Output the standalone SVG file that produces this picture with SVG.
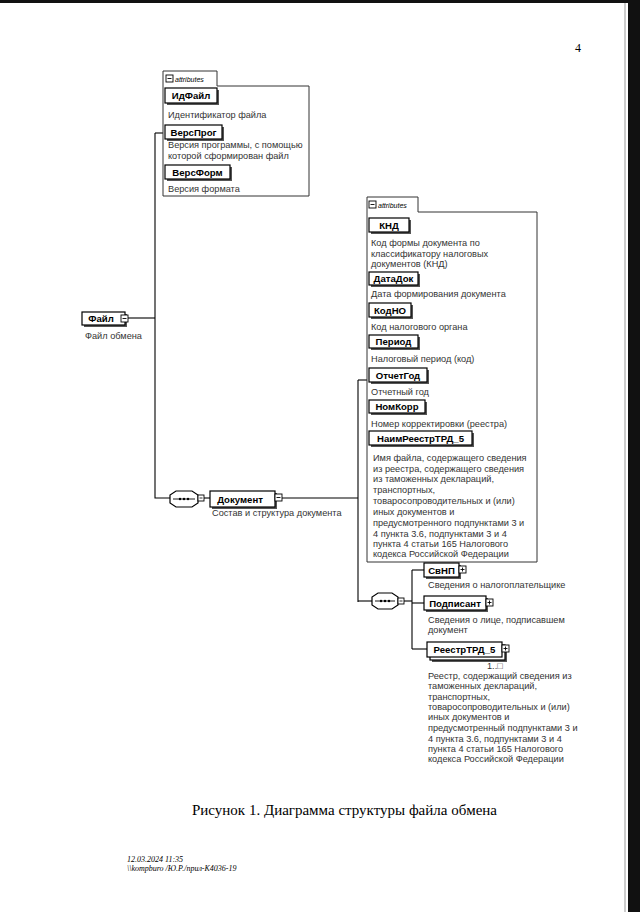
<svg xmlns="http://www.w3.org/2000/svg" width="640" height="912" viewBox="0 0 640 912">
<defs>
<style>
.el{fill:#fff;stroke:#000;stroke-width:1.2}
.sh{fill:#555}
.nm{font-family:"Liberation Sans",Arial,sans-serif;font-size:9.6px;font-weight:bold;text-anchor:middle;fill:#000}
.ds{font-family:"Liberation Sans",Arial,sans-serif;font-size:9.2px;fill:#333}
.grp{fill:#fff;stroke:#333;stroke-width:1}
.tab{font-family:"Liberation Sans",Arial,sans-serif;font-size:7px;font-style:italic;fill:#000}
.btn{fill:#fff;stroke:#000;stroke-width:0.9}
.ln{fill:none;stroke:#000;stroke-width:1.1}
.cap{font-family:"Liberation Serif","Times New Roman",serif;fill:#000}
</style>
</defs>
<rect x="0" y="0" width="640" height="912" fill="#fff"/>
<rect x="0" y="0" width="640" height="3" fill="#111"/>
<rect x="628" y="0" width="12" height="912" fill="#111"/>
<line x1="625" y1="3" x2="625" y2="912" stroke="#999" stroke-width="1"/>

<g id="connectors" class="ln">
<path d="M155,133 H163"/>
<path d="M155,133 V498 H170"/>
<path d="M128,318 H155"/>
<path d="M204,498 H210"/>
<path d="M282,498 H358"/>
<path d="M358,380 V602"/>
<path d="M358,380 H367"/>
<path d="M358,601 H372"/>
<path d="M404,601 H412"/>
<path d="M412,570 V649"/>
<path d="M412,570 H424"/>
<path d="M412,603 H424"/>
<path d="M412,649 H427"/>
</g>

<g id="attrs-file">
<path class="grp" d="M163,71 H217 V86 H309 V196 H163 Z"/>
<rect class="btn" x="166" y="75" width="7" height="7"/>
<line x1="167.5" y1="78.5" x2="171.5" y2="78.5" stroke="#000" stroke-width="0.9"/>
<text class="tab" x="175" y="81.5">attributes</text>
</g>

<g id="ИдФайл">
<rect class="sh" x="167" y="90" width="52" height="15"/>
<rect class="el" x="165" y="88" width="52" height="15"/>
<text class="nm" x="191" y="99">ИдФайл</text>
<text class="ds" x="168" y="118">Идентификатор файла</text>
</g>
<g id="ВерсПрог">
<rect class="sh" x="167" y="127" width="57" height="14"/>
<rect class="el" x="165" y="125" width="57" height="14"/>
<text class="nm" x="193.5" y="135.5">ВерсПрог</text>
<text class="ds" x="168" y="148">Версия программы, с помощью</text>
<text class="ds" x="168" y="159">которой сформирован файл</text>
</g>
<g id="ВерсФорм">
<rect class="sh" x="167" y="167" width="65" height="14"/>
<rect class="el" x="165" y="165" width="65" height="14"/>
<text class="nm" x="197.5" y="175.5">ВерсФорм</text>
<text class="ds" x="168" y="192">Версия формата</text>
</g>

<g id="Файл">
<rect class="sh" x="84" y="314" width="43" height="13"/>
<rect class="el" x="82" y="312" width="43" height="13"/>
<text class="nm" x="101" y="322">Файл</text>
<rect class="btn" x="121" y="315" width="7" height="7"/>
<line x1="122.5" y1="318.5" x2="126.5" y2="318.5" stroke="#000" stroke-width="0.9"/>
<text class="ds" x="85" y="339">Файл обмена</text>
</g>

<g id="seq1">
<path class="el" d="M176,491 H192 L198,495 V503 L192,507 H176 L170,503 V495 Z"/>
<line x1="173" y1="499" x2="195" y2="499" stroke="#000" stroke-width="0.9"/>
<circle cx="180" cy="499" r="1.2"/><circle cx="184" cy="499" r="1.2"/><circle cx="188" cy="499" r="1.2"/>
<rect class="btn" x="198" y="495" width="6" height="6"/>
<line x1="199.5" y1="498" x2="202.5" y2="498" stroke="#000" stroke-width="0.8"/>
</g>

<g id="Документ">
<rect class="sh" x="212" y="493" width="65" height="16"/>
<rect class="el" x="210" y="491" width="65" height="16"/>
<text class="nm" x="240" y="502.5">Документ</text>
<rect class="btn" x="275" y="494" width="7" height="7"/>
<line x1="276.5" y1="497.5" x2="280.5" y2="497.5" stroke="#000" stroke-width="0.9"/>
<text class="ds" x="212" y="516">Состав и структура документа</text>
</g>

<g id="attrs-doc">
<path class="grp" d="M367,197 H418 V212 H537 V562 H367 Z"/>
<rect class="btn" x="369" y="201" width="7" height="7"/>
<line x1="370.5" y1="204.5" x2="374.5" y2="204.5" stroke="#000" stroke-width="0.9"/>
<text class="tab" x="378" y="208">attributes</text>
</g>

<g id="КНД">
<rect class="sh" x="371" y="220" width="40" height="14"/>
<rect class="el" x="369" y="218" width="40" height="14"/>
<text class="nm" x="389" y="228.5">КНД</text>
<text class="ds" x="371" y="246">Код формы документа по</text>
<text class="ds" x="371" y="257">классификатору налоговых</text>
<text class="ds" x="371" y="267">документов (КНД)</text>
</g>
<g id="ДатаДок">
<rect class="sh" x="371" y="274" width="49" height="13"/>
<rect class="el" x="369" y="272" width="49" height="13"/>
<text class="nm" x="393.5" y="282">ДатаДок</text>
<text class="ds" x="371" y="297">Дата формирования документа</text>
</g>
<g id="КодНО">
<rect class="sh" x="371" y="305" width="42" height="14"/>
<rect class="el" x="369" y="303" width="42" height="14"/>
<text class="nm" x="390" y="313.5">КодНО</text>
<text class="ds" x="371" y="330">Код налогового органа</text>
</g>
<g id="Период">
<rect class="sh" x="371" y="337" width="49" height="13"/>
<rect class="el" x="369" y="335" width="49" height="13"/>
<text class="nm" x="393.5" y="345">Период</text>
<text class="ds" x="371" y="362">Налоговый период (код)</text>
</g>
<g id="ОтчетГод">
<rect class="sh" x="371" y="370" width="58" height="14"/>
<rect class="el" x="369" y="368" width="58" height="14"/>
<text class="nm" x="398" y="378.5">ОтчетГод</text>
<text class="ds" x="371" y="395">Отчетный год</text>
</g>
<g id="НомКорр">
<rect class="sh" x="371" y="402" width="56" height="13"/>
<rect class="el" x="369" y="400" width="56" height="13"/>
<text class="nm" x="397" y="410">НомКорр</text>
<text class="ds" x="371" y="427">Номер корректировки (реестра)</text>
</g>
<g id="НаимРеестрТРД_5">
<rect class="sh" x="371" y="433" width="103" height="14"/>
<rect class="el" x="369" y="431" width="103" height="14"/>
<text class="nm" x="420.5" y="441.5">НаимРеестрТРД_5</text>
<text class="ds" x="373" y="461">Имя файла, содержащего сведения</text>
<text class="ds" x="373" y="472">из реестра, содержащего сведения</text>
<text class="ds" x="373" y="482">из таможенных деклараций,</text>
<text class="ds" x="373" y="493">транспортных,</text>
<text class="ds" x="373" y="504">товаросопроводительных и (или)</text>
<text class="ds" x="373" y="515">иных документов и</text>
<text class="ds" x="373" y="526">предусмотренного подпунктами 3 и</text>
<text class="ds" x="373" y="537">4 пункта 3.6, подпунктами 3 и 4</text>
<text class="ds" x="373" y="547">пункта 4 статьи 165 Налогового</text>
<text class="ds" x="373" y="557">кодекса Российской Федерации</text>
</g>

<g id="seq2">
<path class="el" d="M378,593 H392 L398,597 V605 L392,609 H378 L372,605 V597 Z"/>
<line x1="375" y1="601" x2="395" y2="601" stroke="#000" stroke-width="0.9"/>
<circle cx="381" cy="601" r="1.2"/><circle cx="385" cy="601" r="1.2"/><circle cx="389" cy="601" r="1.2"/>
<rect class="btn" x="398" y="598" width="6" height="6"/>
<line x1="399.5" y1="601" x2="402.5" y2="601" stroke="#000" stroke-width="0.8"/>
</g>

<g id="СвНП">
<rect class="sh" x="426" y="565" width="35" height="14"/>
<rect class="el" x="424" y="563" width="35" height="14"/>
<text class="nm" x="441.5" y="573.5">СвНП</text>
<rect class="btn" x="459" y="566" width="7" height="7"/>
<path d="M460.5,569.5 H464.5 M462.5,567.5 V571.5" stroke="#000" stroke-width="0.9"/>
<text class="ds" x="428" y="588">Сведения о налогоплательщике</text>
</g>
<g id="Подписант">
<rect class="sh" x="426" y="598" width="62" height="14"/>
<rect class="el" x="424" y="596" width="62" height="14"/>
<text class="nm" x="455" y="606.5">Подписант</text>
<rect class="btn" x="486" y="599" width="7" height="7"/>
<path d="M487.5,602.5 H491.5 M489.5,600.5 V604.5" stroke="#000" stroke-width="0.9"/>
<text class="ds" x="428" y="623">Сведения о лице, подписавшем</text>
<text class="ds" x="428" y="633">документ</text>
</g>
<g id="РеестрТРД_5">
<rect class="sh" x="432" y="647" width="75" height="15"/>
<rect class="el" x="430" y="645" width="75" height="15"/>
<rect class="el" x="427" y="642" width="75" height="15"/>
<text class="nm" x="464.5" y="653">РеестрТРД_5</text>
<rect class="btn" x="502" y="645" width="7" height="7"/>
<path d="M503.5,648.5 H507.5 M505.5,646.5 V650.5" stroke="#000" stroke-width="0.9"/>
<text class="ds" x="487" y="669" font-size="7.5">1..□</text>
<text class="ds" x="428" y="679">Реестр, содержащий сведения из</text>
<text class="ds" x="428" y="689">таможенных деклараций,</text>
<text class="ds" x="428" y="700">транспортных,</text>
<text class="ds" x="428" y="710">товаросопроводительных и (или)</text>
<text class="ds" x="428" y="720">иных документов и</text>
<text class="ds" x="428" y="731">предусмотренный подпунктами 3 и</text>
<text class="ds" x="428" y="742">4 пункта 3.6, подпунктами 3 и 4</text>
<text class="ds" x="428" y="752">пункта 4 статьи 165 Налогового</text>
<text class="ds" x="428" y="762">кодекса Российской Федерации</text>
</g>

<text class="cap" x="575" y="52" font-size="12">4</text>
<text class="cap" x="192" y="815" font-size="15">Рисунок 1. Диаграмма структуры файла обмена</text>
<text class="cap" x="127" y="862" font-size="8" font-style="italic" fill="#444">12.03.2024 11:35</text>
<text class="cap" x="127" y="871" font-size="8" font-style="italic" fill="#444">\\kompburo /Ю.Р./прил-К4036-19</text>
</svg>
